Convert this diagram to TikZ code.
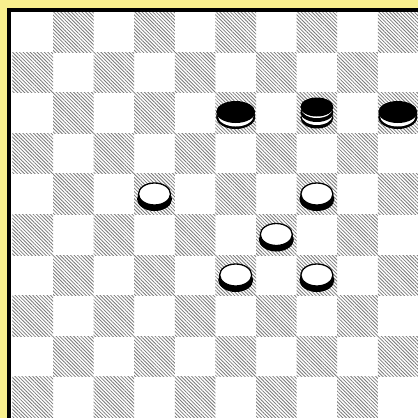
\documentclass[tikz,border=0pt]{standalone}
\usetikzlibrary{patterns.meta}
\definecolor{bgyellow}{RGB}{248,239,142}
\tikzset{
  hatch/.style={pattern={Lines[angle=-45,distance=2.5pt,line width=0.8pt]}, pattern color=black!52},
  whitep/.pic={
    \fill[black] (0,3.5) ellipse [x radius=17.5, y radius=12];
    \filldraw[fill=white, draw=black, line width=1.3] (0,-1.5) ellipse [x radius=16, y radius=11];
  },
  blackp/.pic={
    \fill[black] (0,4) ellipse [x radius=19.5, y radius=12];
    \fill[white] (0,2.5) ellipse [x radius=18, y radius=11];
    \fill[black] (0,-1) ellipse [x radius=19.5, y radius=11];
  },
  kingp/.pic={
    \fill[black] (0,4.5) ellipse [x radius=16.5, y radius=11];
    \fill[white] (0,2.5) ellipse [x radius=15.5, y radius=9.5];
    \fill[black] (0,-0.5) ellipse [x radius=16.5, y radius=9.5];
    \fill[white] (0,-4) ellipse [x radius=15.5, y radius=9];
    \fill[black] (0,-6) ellipse [x radius=16.5, y radius=9.5];
  }
}
\begin{document}
\begin{tikzpicture}[x=1pt,y=-1pt]
\useasboundingbox (0,0) rectangle (418,418);
\fill[bgyellow] (0,0) rectangle (418,418);
\begin{scope}
\clip (0,0) rectangle (418,418);
\fill[white] (11,11) rectangle (440,440);
\foreach \c in {0,...,9} {
  \foreach \r in {0,...,9} {
    \pgfmathtruncatemacro\oddsq{mod(\r+\c,2)}
    \ifnum\oddsq=1
      \fill[hatch] (12.4+\c*40.6, 11.5+\r*40.6) rectangle ++(40.6,40.6);
    \fi
  }
}
\draw[line width=3.8] (9.2,440) -- (9.2,9.7) -- (440,9.7);
\end{scope}
% black pieces
\pic at (235.7,113) {blackp};
\pic at (316.9,113) {kingp};
\pic at (397.8,113) {blackp};
% white pieces
\pic at (154.5,195.5) {whitep};
\pic at (316.9,195.5) {whitep};
\pic at (276.3,236) {whitep};
\pic at (235.7,276.5) {whitep};
\pic at (316.9,276.5) {whitep};
\end{tikzpicture}
\end{document}
